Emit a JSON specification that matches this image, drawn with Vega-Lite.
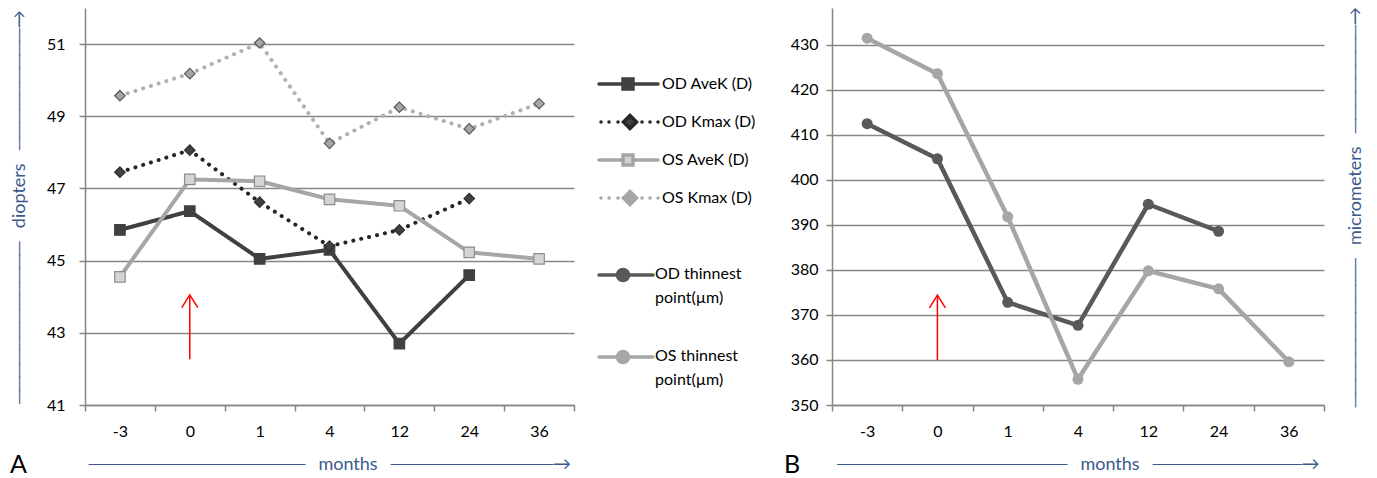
{
  "$schema": "https://vega.github.io/schema/vega-lite/v6.json",
  "autosize": {"type": "pad"},
  "padding": {"left": 10, "top": 6, "right": 0, "bottom": 0},
  "background": "#ffffff",
  "config": {
    "view": {"stroke": null},
    "font": "Lato",
    "axis": {
      "labelFont": "Lato", "labelFontSize": 16, "labelColor": "#000000",
      "titleFont": "Lato, DejaVu Sans", "titleFontSize": 18, "titleFontWeight": "normal", "titleColor": "#3b5a8c",
      "domainColor": "#868686", "domainWidth": 1.5, "tickColor": "#868686", "tickWidth": 1.5, "tickSize": 6,
      "gridColor": "#868686", "gridWidth": 1.5
    },
    "legend": {"labelFont": "Lato", "labelFontSize": 16, "labelColor": "#000000", "symbolSize": 100, "symbolOpacity": 1, "padding": 0, "labelLimit": 300}
  },
  "datasets": {
    "a": [
      {"month": "-3", "series": "OD AveK (D)", "value": 45.85},
      {"month": "0", "series": "OD AveK (D)", "value": 46.37},
      {"month": "1", "series": "OD AveK (D)", "value": 45.05},
      {"month": "4", "series": "OD AveK (D)", "value": 45.3},
      {"month": "12", "series": "OD AveK (D)", "value": 42.7},
      {"month": "24", "series": "OD AveK (D)", "value": 44.6},
      {"month": "-3", "series": "OD Kmax (D)", "value": 47.45},
      {"month": "0", "series": "OD Kmax (D)", "value": 48.06},
      {"month": "1", "series": "OD Kmax (D)", "value": 46.62},
      {"month": "4", "series": "OD Kmax (D)", "value": 45.4},
      {"month": "12", "series": "OD Kmax (D)", "value": 45.85},
      {"month": "24", "series": "OD Kmax (D)", "value": 46.72},
      {"month": "-3", "series": "OS AveK (D)", "value": 44.55},
      {"month": "0", "series": "OS AveK (D)", "value": 47.25},
      {"month": "1", "series": "OS AveK (D)", "value": 47.2},
      {"month": "4", "series": "OS AveK (D)", "value": 46.7},
      {"month": "12", "series": "OS AveK (D)", "value": 46.52},
      {"month": "24", "series": "OS AveK (D)", "value": 45.23},
      {"month": "36", "series": "OS AveK (D)", "value": 45.05},
      {"month": "-3", "series": "OS Kmax (D)", "value": 49.57},
      {"month": "0", "series": "OS Kmax (D)", "value": 50.18},
      {"month": "1", "series": "OS Kmax (D)", "value": 51.03},
      {"month": "4", "series": "OS Kmax (D)", "value": 48.25},
      {"month": "12", "series": "OS Kmax (D)", "value": 49.25},
      {"month": "24", "series": "OS Kmax (D)", "value": 48.65},
      {"month": "36", "series": "OS Kmax (D)", "value": 49.35}
    ],
    "b": [
      {"month": "-3", "series": "OD thinnest point(µm)", "value": 412.5},
      {"month": "0", "series": "OD thinnest point(µm)", "value": 404.7},
      {"month": "1", "series": "OD thinnest point(µm)", "value": 372.8},
      {"month": "4", "series": "OD thinnest point(µm)", "value": 367.7},
      {"month": "12", "series": "OD thinnest point(µm)", "value": 394.6},
      {"month": "24", "series": "OD thinnest point(µm)", "value": 388.6},
      {"month": "-3", "series": "OS thinnest point(µm)", "value": 431.5},
      {"month": "0", "series": "OS thinnest point(µm)", "value": 423.6},
      {"month": "1", "series": "OS thinnest point(µm)", "value": 391.8},
      {"month": "4", "series": "OS thinnest point(µm)", "value": 355.7},
      {"month": "12", "series": "OS thinnest point(µm)", "value": 379.8},
      {"month": "24", "series": "OS thinnest point(µm)", "value": 375.8},
      {"month": "36", "series": "OS thinnest point(µm)", "value": 359.6}
    ],
    "arrowA": [{"month": "0", "value": 42.27, "part": "tail"}, {"month": "0", "value": 44.05, "part": "tip"}],
    "arrowB": [{"month": "0", "value": 360, "part": "tail"}, {"month": "0", "value": 374.4, "part": "tip"}]
  },
  "spacing": 258,
  "bounds": "flush",
  "resolve": {"scale": {"color": "independent", "fill": "independent", "stroke": "independent", "shape": "independent", "strokeDash": "independent"}, "legend": {"fill": "independent", "color": "independent"}},
  "hconcat": [
    {
      "width": 489,
      "height": 397,
      "title": {"text": "A", "orient": "bottom", "anchor": "start", "frame": "group", "dx": -75, "offset": -20, "fontSize": 25, "fontWeight": "normal", "font": "Lato", "color": "#000000"},
      "encoding": {
        "x": {"field": "month", "type": "ordinal", "sort": ["-3", "0", "1", "4", "12", "24", "36"], "bandPosition": 0.5, "scale": {"type": "band", "paddingInner": 0, "paddingOuter": 0},
          "axis": {"title": "────────────────\u2003months\u2003────────────→", "tickBand": "extent", "labelAngle": 0, "labelPadding": 12, "grid": false, "titlePadding": 16}},
        "y": {"field": "value", "type": "quantitative", "scale": {"domain": [41, 52], "nice": false, "zero": false},
          "axis": {"title": "────────────\u2003diopters\u2003─────────→", "values": [41, 43, 45, 47, 49, 51], "grid": true, "labelPadding": 14, "titlePadding": 18}}
      },
      "layer": [
        {
          "data": {"name": "a"},
          "mark": {"type": "line", "strokeWidth": 4, "strokeCap": "round", "strokeJoin": "round"},
          "encoding": {
            "color": {"field": "series", "type": "nominal", "scale": {"range": ["#404040", "#262626", "#a6a6a6", "#b0b0b0"]}, "legend": null},
            "strokeDash": {"field": "series", "type": "nominal", "scale": {"range": [[1, 0], [0.1, 8], [1, 0], [0.1, 8]]}, "legend": null}
          }
        },
        {
          "data": {"name": "a"},
          "mark": {"type": "point", "filled": true, "opacity": 1, "size": 110, "strokeWidth": 1.2},
          "encoding": {
            "shape": {"field": "series", "type": "nominal", "scale": {"range": ["square", "diamond", "square", "diamond"]}, "legend": null},
            "stroke": {"field": "series", "type": "nominal", "scale": {"range": ["#404040", "#303030", "#8c8c8c", "#595959"]}, "legend": null},
            "fill": {"field": "series", "type": "nominal", "scale": {"domain": ["OD AveK (D)", "OD Kmax (D)", "OS AveK (D)", "OS Kmax (D)"], "range": ["#404040", "#404040", "#d4d4d4", "#a6a6a6"]},
              "legend": {"title": null, "orient": "none", "legendX": 511, "legendY": 68, "rowPadding": 12, "labelOffset": 50,
                "encode": {"symbols": {"update": {
                  "shape": {"signal": "indexof(datum.value,'Kmax')>=0 ? 'M-0.6,0h0.01M1,0h0.01M2.8,0h0.01M7.6,0h0.01M9.2,0h0.01M10.8,0h0.01M5.2,-1.3L6.5,0L5.2,1.3L3.9,0Z' : 'M-1,0H3.8M5.8,0H10.8M3.8,-1H5.8V1H3.8Z'"},
                  "stroke": {"signal": "datum.value==='OD AveK (D)' ? '#404040' : datum.value==='OD Kmax (D)' ? '#262626' : '#a6a6a6'"},
                  "strokeWidth": {"value": 3.5}, "strokeCap": {"value": "round"}, "opacity": {"value": 1}, "fillOpacity": {"value": 1}, "strokeOpacity": {"value": 1}}}}}}
          }
        },
        {
          "data": {"name": "arrowA"},
          "mark": {"type": "line", "color": "#ff0000", "strokeWidth": 1.5},
          "encoding": {}
        },
        {
          "data": {"name": "arrowA"},
          "transform": [{"filter": "datum.part === 'tip'"}],
          "mark": {"type": "point", "shape": "M-1,1.6L0,0L1,1.6", "size": 256, "filled": false, "stroke": "#ff0000", "strokeWidth": 1.5, "opacity": 1},
          "encoding": {}
        }
      ]
    },
    {
      "width": 492,
      "height": 397,
      "title": {"text": "B", "orient": "bottom", "anchor": "start", "frame": "group", "dx": -48, "offset": -20, "fontSize": 25, "fontWeight": "normal", "font": "Lato", "color": "#000000"},
      "resolve": {"axis": {"y": "independent"}},
      "encoding": {
        "x": {"field": "month", "type": "ordinal", "sort": ["-3", "0", "1", "4", "12", "24", "36"], "bandPosition": 0.5, "scale": {"type": "band", "paddingInner": 0, "paddingOuter": 0},
          "axis": {"title": "─────────────────\u2003months\u2003───────────→", "tickBand": "extent", "labelAngle": 0, "labelPadding": 12, "grid": false, "titlePadding": 16}}
      },
      "layer": [
        {
          "data": {"name": "b"},
          "mark": {"type": "line", "strokeWidth": 4.5, "strokeCap": "round", "strokeJoin": "round"},
          "encoding": {
            "y": {"field": "value", "type": "quantitative", "scale": {"domain": [350, 438.2], "nice": false, "zero": false},
              "axis": {"title": null, "values": [350, 360, 370, 380, 390, 400, 410, 420, 430], "grid": true, "labelPadding": 8}},
            "color": {"field": "series", "type": "nominal", "scale": {"range": ["#595959", "#a6a6a6"]}, "legend": null}
          }
        },
        {
          "data": {"name": "b"},
          "mark": {"type": "point", "filled": true, "opacity": 1, "size": 121, "shape": "circle", "strokeWidth": 0},
          "encoding": {
            "y": {"field": "value", "type": "quantitative", "scale": {"domain": [350, 438.2], "nice": false, "zero": false},
              "axis": {"orient": "right", "title": "───────────\u2003micrometers\u2003────────→", "titleAngle": 270, "labels": false, "ticks": false, "domain": false, "grid": false, "titlePadding": 40}},
            "fill": {"field": "series", "type": "nominal", "scale": {"domain": ["OD thinnest point(µm)", "OS thinnest point(µm)"], "range": ["#595959", "#a6a6a6"]},
              "legend": {"title": null, "orient": "none", "legendX": -236, "legendY": 250, "rowPadding": 34, "labelOffset": 43, "labelBaseline": "top",
                "labelExpr": "split(replace(datum.label, ' point', '|point'), '|')",
                "encode": {
                  "symbols": {"update": {
                    "shape": {"value": "M-1,1.8H2.7M4.9,1.8H9.8M4.9,1.8A1.1,1.1 0 1,1 2.7,1.8A1.1,1.1 0 1,1 4.9,1.8Z"},
                    "stroke": {"signal": "indexof(datum.value,'OD')===0 ? '#595959' : '#a6a6a6'"},
                    "strokeWidth": {"value": 3.5}, "strokeCap": {"value": "round"}, "opacity": {"value": 1}, "fillOpacity": {"value": 1}, "strokeOpacity": {"value": 1}}},
                  "labels": {"update": {"lineHeight": {"value": 24}}}
                }}}
          }
        },
        {
          "data": {"name": "arrowB"},
          "mark": {"type": "line", "color": "#ff0000", "strokeWidth": 1.5},
          "encoding": {
            "y": {"field": "value", "type": "quantitative", "scale": {"domain": [350, 438.2], "nice": false, "zero": false}, "axis": null}
          }
        },
        {
          "data": {"name": "arrowB"},
          "transform": [{"filter": "datum.part === 'tip'"}],
          "mark": {"type": "point", "shape": "M-1,1.6L0,0L1,1.6", "size": 256, "filled": false, "stroke": "#ff0000", "strokeWidth": 1.5, "opacity": 1},
          "encoding": {
            "y": {"field": "value", "type": "quantitative", "scale": {"domain": [350, 438.2], "nice": false, "zero": false}, "axis": null}
          }
        }
      ]
    }
  ]
}
